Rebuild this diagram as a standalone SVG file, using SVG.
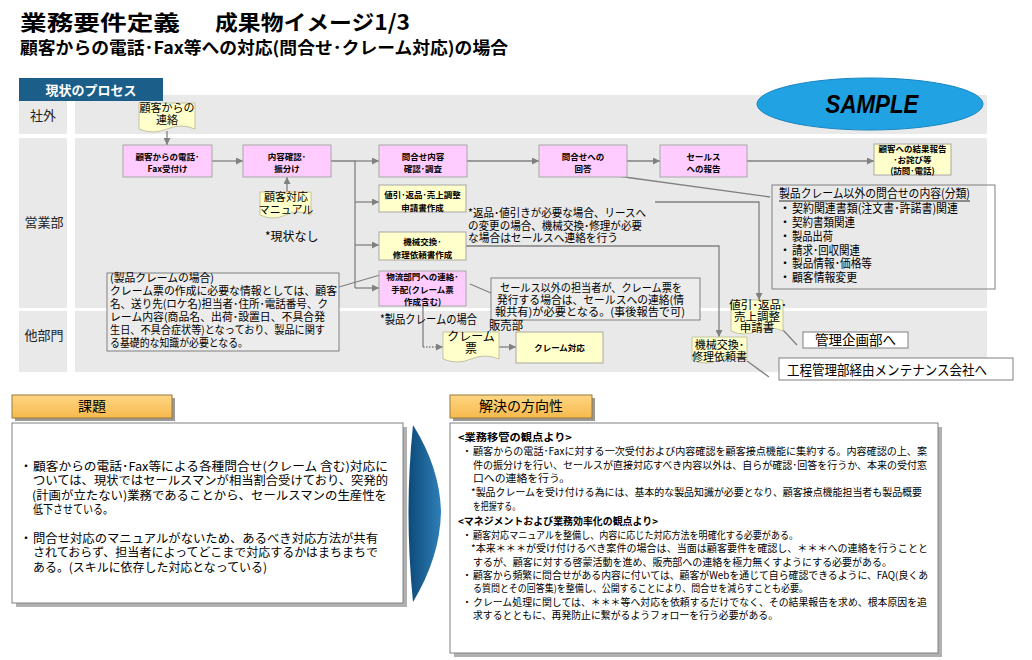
<svg xmlns="http://www.w3.org/2000/svg" width="1032" height="660" viewBox="0 0 1032 660">
<defs>
<style>
.j{font-family:"Noto Sans CJK JP","Noto Sans",sans-serif;fill:#000}
.lane{fill:#e9e9e9}
.pink{fill:#ffccff;stroke:#a8a8a8;stroke-width:1}
.yel{fill:#ffffcc;stroke:#a8a8a8;stroke-width:1}
.note{fill:#ffffcc;stroke:#c4c4a0;stroke-width:1}
.c{stroke:#808080;stroke-width:1.3;fill:none}
.ca{stroke:#808080;stroke-width:1.3;fill:none;marker-end:url(#ah)}
.nt{font-size:8.5px;font-weight:bold;text-anchor:middle}
.lbl{font-size:13px;text-anchor:middle;fill:#222}
.box{fill:#fff;stroke:#808080;stroke-width:1}
.hdr{stroke:#9a7a3a;stroke-width:1;fill:url(#og)}
</style>
<marker id="ah" viewBox="0 0 10 10" refX="10" refY="5" markerWidth="8" markerHeight="7" orient="auto" markerUnits="userSpaceOnUse">
<path d="M0,0 L10,5 L0,10 z" fill="#808080"/>
</marker>
<linearGradient id="og" x1="0" y1="0" x2="0" y2="1">
<stop offset="0" stop-color="#ffd684"/>
<stop offset="1" stop-color="#f6b94c"/>
</linearGradient>
<linearGradient id="bg" x1="0" y1="0" x2="1" y2="0">
<stop offset="0" stop-color="#0d4a7a"/>
<stop offset="1" stop-color="#2f7fb8"/>
</linearGradient>
</defs>

<!-- Title -->
<g id="title">
<text class="j" x="20" y="30" font-size="21" font-weight="bold" textLength="160" lengthAdjust="spacingAndGlyphs">業務要件定義</text>
<text class="j" x="215" y="30" font-size="21" font-weight="bold" textLength="195" lengthAdjust="spacingAndGlyphs">成果物イメージ1/3</text>
<text class="j" x="20" y="54" font-size="17" font-weight="bold" textLength="488" lengthAdjust="spacingAndGlyphs">顧客からの電話･Fax等への対応(問合せ･クレーム対応)の場合</text>
</g>

<!-- Lanes -->
<g id="lanes">
<rect class="lane" x="19" y="95" width="48" height="39"/>
<rect class="lane" x="75" y="95" width="912" height="39"/>
<rect class="lane" x="19" y="138" width="48" height="170"/>
<rect class="lane" x="75" y="138" width="912" height="170"/>
<rect class="lane" x="19" y="311" width="48" height="61"/>
<rect class="lane" x="75" y="311" width="912" height="61"/>
<text class="j lbl" x="43" y="120">社外</text>
<text class="j lbl" x="44" y="227">営業部</text>
<text class="j lbl" x="44" y="340">他部門</text>
</g>

<g id="process-header">
<rect x="19" y="78" width="144" height="23" fill="#1b5e8a"/>
<text class="j" x="91" y="95" font-size="13" font-weight="bold" style="fill:#fff" text-anchor="middle">現状のプロセス</text>
</g>

<g id="sample">
<ellipse cx="870" cy="104" rx="113" ry="26" fill="#21a3e3" stroke="#1a85c2" stroke-width="1"/>
<text x="872" y="113" font-family="'Liberation Sans',Arial,sans-serif" font-size="25" font-weight="bold" font-style="italic" text-anchor="middle" textLength="93" lengthAdjust="spacingAndGlyphs">SAMPLE</text>
</g>

<!-- Annotation boxes -->
<g id="claim-note">
<rect x="107" y="273" width="232" height="78" fill="#ececec" stroke="#808080" stroke-width="1"/>
<text class="j" font-size="11">
<tspan x="110" y="282" textLength="104" lengthAdjust="spacingAndGlyphs">(製品クレームの場合)</tspan>
<tspan x="110" y="295" textLength="227" lengthAdjust="spacingAndGlyphs">クレーム票の作成に必要な情報としては、顧客</tspan>
<tspan x="110" y="308" textLength="218" lengthAdjust="spacingAndGlyphs">名、送り先(ロケ名)担当者･住所･電話番号、ク</tspan>
<tspan x="110" y="321" textLength="215" lengthAdjust="spacingAndGlyphs">レーム内容(商品名、出荷･設置日、不具合発</tspan>
<tspan x="110" y="334" textLength="215" lengthAdjust="spacingAndGlyphs">生日、不具合症状等)となっており、製品に関す</tspan>
<tspan x="110" y="347" textLength="138" lengthAdjust="spacingAndGlyphs">る基礎的な知識が必要となる。</tspan>
</text>
</g>

<g id="other-inquiry-note">
<rect x="772" y="185" width="223" height="104" fill="none" stroke="#808080" stroke-width="1"/>
<text class="j" x="779" y="198" font-size="12" textLength="191" lengthAdjust="spacingAndGlyphs">製品クレーム以外の問合せの内容(分類)</text>
<line x1="779" y1="201" x2="970" y2="201" stroke="#000" stroke-width="0.8"/>
<g class="j" font-size="12">
<text x="779" y="213">・</text><text x="792" y="213" textLength="166" lengthAdjust="spacingAndGlyphs">契約関連書類(注文書･許諾書)関連</text>
<text x="779" y="227">・</text><text x="792" y="227" textLength="63" lengthAdjust="spacingAndGlyphs">契約書類関連</text>
<text x="779" y="241">・</text><text x="792" y="241" textLength="41" lengthAdjust="spacingAndGlyphs">製品出荷</text>
<text x="779" y="255">・</text><text x="792" y="255" textLength="68" lengthAdjust="spacingAndGlyphs">請求･回収関連</text>
<text x="779" y="268">・</text><text x="792" y="268" textLength="80" lengthAdjust="spacingAndGlyphs">製品情報･価格等</text>
<text x="779" y="282">・</text><text x="792" y="282" textLength="65" lengthAdjust="spacingAndGlyphs">顧客情報変更</text>
</g>
</g>

<g id="sales-contact-note">
<rect x="491" y="278" width="209" height="42" fill="#ececec" stroke="#808080" stroke-width="1"/>
<text class="j" font-size="11">
<tspan x="500" y="292" textLength="182" lengthAdjust="spacingAndGlyphs">セールス以外の担当者が、クレーム票を</tspan>
<tspan x="497" y="304" textLength="187" lengthAdjust="spacingAndGlyphs">発行する場合は、セールスへの連絡(情</tspan>
<tspan x="495" y="316" textLength="190" lengthAdjust="spacingAndGlyphs">報共有)が必要となる。(事後報告で可)</tspan>
</text>
</g>

<!-- Connectors -->
<g id="connectors">
<path class="ca" d="M167,131 V145"/>
<path class="ca" d="M212,161 H243"/>
<path class="ca" d="M287,192 V177"/>
<path class="c" d="M331,161 H355 V288"/>
<path class="ca" d="M355,161 H379"/>
<path class="ca" d="M355,202 H379"/>
<path class="ca" d="M355,245 H379"/>
<path class="ca" d="M355,288 H379"/>
<path class="ca" d="M467,161 H539"/>
<path class="ca" d="M627,161 H660"/>
<path class="ca" d="M747,161 H874"/>
<path class="c" d="M617,176 L770,197"/>
<path class="ca" d="M655,202 H759 V300"/>
<path class="ca" d="M466,246 H719 V337"/>
<path class="c" d="M423,306 V347"/>
<path class="ca" d="M423,347 H443" stroke-dasharray="1.5,1.5"/>
<path class="ca" d="M499,347 H516"/>
<path class="c" d="M339,287 L380,275"/>
<path class="c" d="M470,284 L491,293"/>
<path class="c" d="M783,330 L797,345"/>
<path class="c" d="M747,361 L769,377"/>
</g>

<!-- Nodes -->
<g id="n-renraku">
<path class="note" d="M139,103 H195 V129 Q181,123 167,129 T139,129 Z"/>
<text class="j" font-size="11" text-anchor="middle"><tspan x="167" y="112">顧客からの</tspan><tspan x="167" y="124">連絡</tspan></text>
</g>
<g id="n-fax">
<rect class="pink" x="123" y="145" width="89" height="32"/>
<text class="j nt"><tspan x="167.5" y="160">顧客からの電話･</tspan><tspan x="167.5" y="172">Fax受付け</tspan></text>
</g>
<g id="n-naiyou">
<rect class="pink" x="243" y="145" width="88" height="32"/>
<text class="j nt"><tspan x="287" y="160">内容確認･</tspan><tspan x="287" y="172">振分け</tspan></text>
</g>
<g id="n-manual">
<path class="note" d="M260,192 H311 V215 Q298,209 285.5,215 T260,215 Z"/>
<text class="j" font-size="11" text-anchor="middle"><tspan x="286" y="201">顧客対応</tspan><tspan x="286" y="214">マニュアル</tspan></text>
</g>
<g id="t-genjou">
<text class="j" x="265" y="241" font-size="12">*現状なし</text>
</g>
<g id="n-chousa">
<rect class="pink" x="379" y="145" width="88" height="32"/>
<text class="j nt"><tspan x="423" y="160">問合せ内容</tspan><tspan x="423" y="172">確認･調査</tspan></text>
</g>
<g id="n-kaitou">
<rect class="pink" x="539" y="145" width="88" height="32"/>
<text class="j nt"><tspan x="583" y="160">問合せへの</tspan><tspan x="583" y="172">回答</tspan></text>
</g>
<g id="n-sales">
<rect class="pink" x="660" y="145" width="87" height="32"/>
<text class="j nt"><tspan x="703.5" y="160">セールス</tspan><tspan x="703.5" y="172">への報告</tspan></text>
</g>
<g id="n-kekka">
<rect class="yel" x="874" y="144" width="77" height="31"/>
<text class="j nt"><tspan x="912.5" y="152">顧客への結果報告</tspan><tspan x="912.5" y="163">･お詫び等</tspan><tspan x="912.5" y="174">(訪問･電話)</tspan></text>
</g>
<g id="n-nebiki">
<rect class="yel" x="379" y="185" width="87" height="27"/>
<text class="j nt"><tspan x="422.5" y="198">値引･返品･売上調整</tspan><tspan x="422.5" y="211">申請書作成</tspan></text>
</g>
<g id="t-henpin">
<text class="j" font-size="11.5">
<tspan x="468" y="217" textLength="178" lengthAdjust="spacingAndGlyphs">*返品･値引きが必要な場合、リースへ</tspan>
<tspan x="468" y="230" textLength="174" lengthAdjust="spacingAndGlyphs">の変更の場合、機械交換･修理が必要</tspan>
<tspan x="468" y="242" textLength="150" lengthAdjust="spacingAndGlyphs">な場合はセールスへ連絡を行う</tspan>
</text>
</g>
<g id="n-kikai">
<rect class="yel" x="379" y="232" width="87" height="28"/>
<text class="j nt"><tspan x="422.5" y="245">機械交換･</tspan><tspan x="422.5" y="258">修理依頼書作成</tspan></text>
</g>
<g id="n-butsuryu">
<rect class="pink" x="379" y="271" width="87" height="35"/>
<text class="j nt"><tspan x="422.5" y="280">物流部門への連絡･</tspan><tspan x="422.5" y="293">手配(クレーム票</tspan><tspan x="422.5" y="305">作成含む)</tspan></text>
</g>
<g id="t-seihin">
<text class="j" x="380" y="324" font-size="12" textLength="97" lengthAdjust="spacingAndGlyphs">*製品クレームの場合</text>
</g>
<g id="t-hanbaibu">
<text class="j" x="489" y="330" font-size="12" textLength="34" lengthAdjust="spacingAndGlyphs">販売部</text>
</g>
<g id="n-claimhyo">
<path class="note" d="M443,332 H499 V359 Q485,353 471,359 T443,359 Z"/>
<text class="j" font-size="12" text-anchor="middle"><tspan x="471" y="341">クレーム</tspan><tspan x="471" y="353">票</tspan></text>
</g>
<g id="n-claimtaiou">
<rect class="yel" x="516" y="332" width="87" height="31"/>
<text class="j nt" x="559.5" y="351">クレーム対応</text>
</g>
<g id="n-shinseisho">
<path class="note" d="M731,300 H783 V331 Q770,325 757,331 T731,331 Z"/>
<text class="j" font-size="11.5" text-anchor="middle"><tspan x="758" y="309">値引･返品･</tspan><tspan x="757" y="321">売上調整</tspan><tspan x="757" y="332">申請書</tspan></text>
</g>
<g id="n-kanri">
<rect class="box" x="803" y="332" width="105" height="16"/>
<text class="j" x="855.5" y="345" font-size="13.5" text-anchor="middle">管理企画部へ</text>
</g>
<g id="n-iraisho">
<path class="note" d="M692,337 H747 V360 Q733,354 719.5,360 T692,360 Z"/>
<text class="j" font-size="11" text-anchor="middle"><tspan x="719.5" y="349">機械交換･</tspan><tspan x="719.5" y="361">修理依頼書</tspan></text>
</g>
<g id="n-koutei">
<rect class="box" x="779" y="358" width="234" height="22"/>
<text class="j" x="787" y="375" font-size="14" textLength="200" lengthAdjust="spacingAndGlyphs">工程管理部経由メンテナンス会社へ</text>
</g>

<!-- Bottom: issues -->
<g id="issues">
<rect x="15" y="398" width="160" height="23" fill="#999"/>
<rect class="hdr" x="12" y="395" width="160" height="23"/>
<text class="j" x="92" y="411" font-size="14" text-anchor="middle">課題</text>
<rect x="16" y="427" width="391" height="180" fill="#b0b0b0"/>
<rect class="box" x="12" y="423" width="391" height="180"/>
<g class="j" font-size="12">
<text x="20" y="471">・</text>
<text x="33" y="471" textLength="355" lengthAdjust="spacingAndGlyphs">顧客からの電話･Fax等による各種問合せ(クレーム 含む)対応に</text>
<text x="33" y="485" textLength="355" lengthAdjust="spacingAndGlyphs">ついては、現状ではセールスマンが相当割合受けており、突発的</text>
<text x="32" y="500" textLength="355" lengthAdjust="spacingAndGlyphs">(計画が立たない)業務であることから、セールスマンの生産性を</text>
<text x="33" y="514" textLength="80" lengthAdjust="spacingAndGlyphs">低下させている。</text>
<text x="20" y="543">・</text>
<text x="33" y="543" textLength="345" lengthAdjust="spacingAndGlyphs">問合せ対応のマニュアルがないため、あるべき対応方法が共有</text>
<text x="33" y="557" textLength="345" lengthAdjust="spacingAndGlyphs">されておらず、担当者によってどこまで対応するかはまちまちで</text>
<text x="33" y="572" textLength="234" lengthAdjust="spacingAndGlyphs">ある。(スキルに依存した対応となっている)</text>
</g>
</g>

<g id="arrow-big">
<path d="M413,425 Q440,468 441,512 Q440,557 413,602 Q404,512 413,425 Z" fill="url(#bg)"/>
</g>

<!-- Bottom: solution -->
<g id="solution">
<rect x="453" y="398" width="142" height="23" fill="#999"/>
<rect class="hdr" x="450" y="395" width="142" height="23"/>
<text class="j" x="521" y="411" font-size="14" text-anchor="middle">解決の方向性</text>
<rect x="454" y="427" width="488" height="230" fill="#b0b0b0"/>
<rect class="box" x="450" y="423" width="488" height="230"/>
<g class="j" font-size="10">
<text x="458" y="441" font-weight="bold" textLength="114" lengthAdjust="spacingAndGlyphs">&lt;業務移管の観点より&gt;</text>
<text x="462" y="455">・</text>
<text x="473" y="455" textLength="454" lengthAdjust="spacingAndGlyphs">顧客からの電話･Faxに対する一次受付および内容確認を顧客接点機能に集約する。内容確認の上、案</text>
<text x="473" y="469" textLength="454" lengthAdjust="spacingAndGlyphs">件の振分けを行い、セールスが直接対応すべき内容以外は、自らが確認･回答を行うか、本来の受付窓</text>
<text x="473" y="482" textLength="97" lengthAdjust="spacingAndGlyphs">口への連絡を行う。</text>
<text x="471" y="496" textLength="451" lengthAdjust="spacingAndGlyphs">*製品クレームを受け付ける為には、基本的な製品知識が必要となり、顧客接点機能担当者も製品概要</text>
<text x="473" y="510" textLength="47" lengthAdjust="spacingAndGlyphs">を把握する。</text>
<text x="458" y="525" font-weight="bold" textLength="200" lengthAdjust="spacingAndGlyphs">&lt;マネジメントおよび業務効率化の観点より&gt;</text>
<text x="462" y="539">・</text>
<text x="473" y="539" textLength="325" lengthAdjust="spacingAndGlyphs">顧客対応マニュアルを整備し、内容に応じた対応方法を明確化する必要がある。</text>
<text x="471" y="552" textLength="457" lengthAdjust="spacingAndGlyphs">*本来＊＊＊が受け付けるべき案件の場合は、当面は顧客要件を確認し、＊＊＊への連絡を行うことと</text>
<text x="473" y="566" textLength="419" lengthAdjust="spacingAndGlyphs">するが、顧客に対する啓蒙活動を進め、販売部への連絡を極力無くすようにする必要がある。</text>
<text x="462" y="579">・</text>
<text x="473" y="579" textLength="455" lengthAdjust="spacingAndGlyphs">顧客から頻繁に問合せがある内容に付いては、顧客がWebを通じて自ら確認できるように、FAQ(良くあ</text>
<text x="473" y="592" textLength="335" lengthAdjust="spacingAndGlyphs">る質問とその回答集)を整備し、公開することにより、問合せを減らすことも必要。</text>
<text x="462" y="606">・</text>
<text x="473" y="606" textLength="454" lengthAdjust="spacingAndGlyphs">クレーム処理に関しては、＊＊＊等へ対応を依頼するだけでなく、その結果報告を求め、根本原因を追</text>
<text x="473" y="619" textLength="305" lengthAdjust="spacingAndGlyphs">求するとともに、再発防止に繋がるようフォローを行う必要がある。</text>
</g>
</g>
</svg>
